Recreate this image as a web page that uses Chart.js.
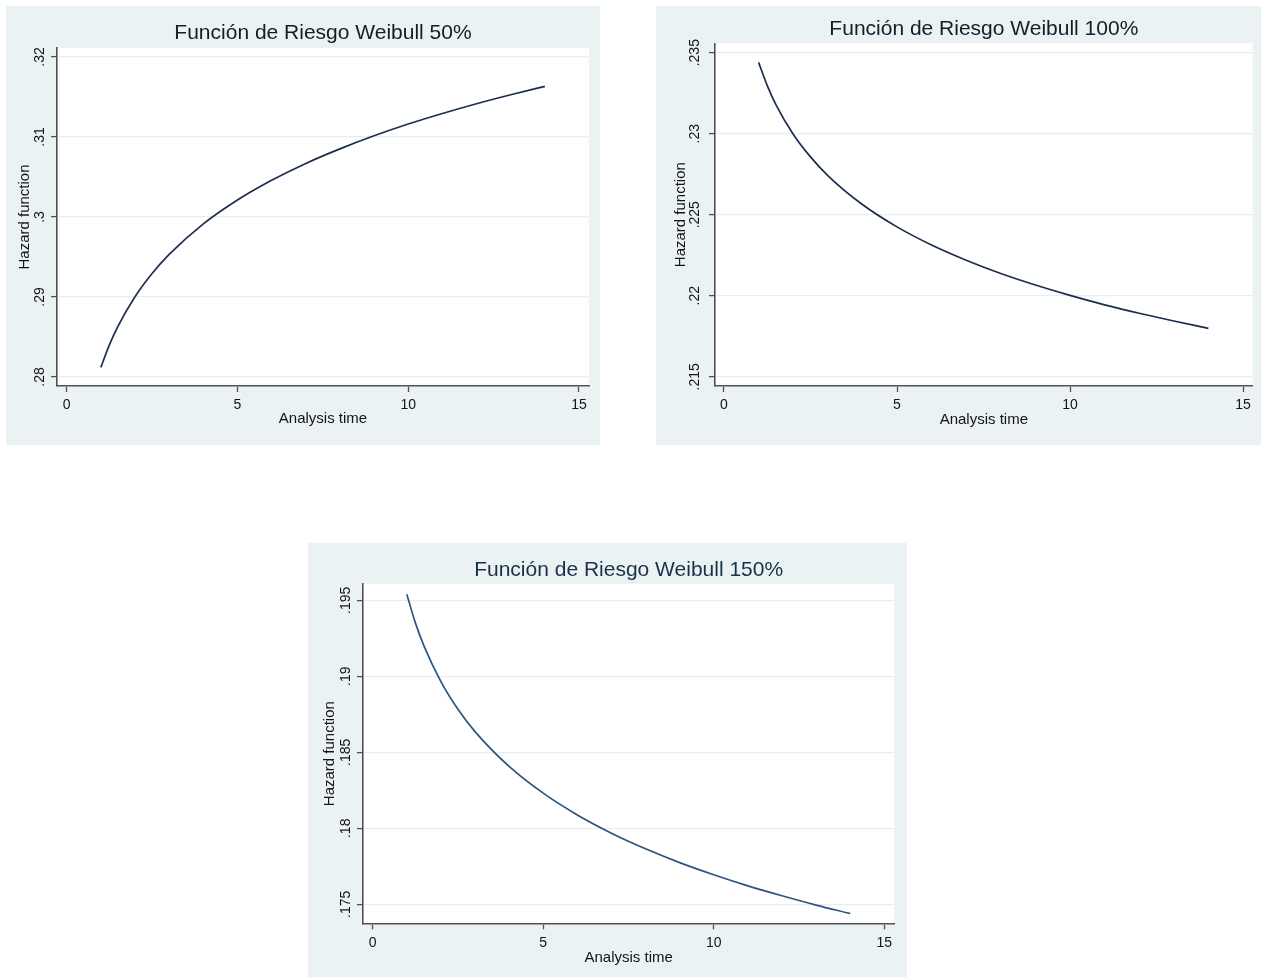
<!DOCTYPE html>
<html><head><meta charset="utf-8">
<script src="https://cdn.jsdelivr.net/npm/chart.js@4"></script>
<style>
html,body{margin:0;padding:0;background:#fff}
body{width:1261px;height:977px;position:relative;overflow:hidden}
.panel{position:absolute;background:#eaf2f3}
canvas{display:block}
</style></head><body>
<div class="panel" style="left:6px;top:6px;width:594px;height:439px"><canvas id="c1" width="594" height="439" style="width:594px;height:439px"></canvas></div>
<div class="panel" style="left:656px;top:6px;width:605px;height:439px"><canvas id="c2" width="605" height="439" style="width:605px;height:439px"></canvas></div>
<div class="panel" style="left:308px;top:543px;width:599px;height:434px"><canvas id="c3" width="599" height="434" style="width:599px;height:434px"></canvas></div>
<script>
// ---- data ----
const analysisTime = [1, 1.25, 1.5, 2, 2.5, 3, 4, 5, 6, 7, 8, 9, 10, 11, 12, 13, 14];
const hazard50  = [0.28120, 0.28401, 0.28633, 0.29003, 0.29293, 0.29532, 0.29914, 0.30213, 0.30459, 0.30670, 0.30852, 0.31015, 0.31162, 0.31294, 0.31416, 0.31528, 0.31633];
const hazard100 = [0.23440, 0.23297, 0.23180, 0.22997, 0.22857, 0.22742, 0.22563, 0.22425, 0.22313, 0.22219, 0.22137, 0.22066, 0.22002, 0.21944, 0.21892, 0.21844, 0.21799];
const hazard150 = [0.19540, 0.19353, 0.19202, 0.18965, 0.18783, 0.18636, 0.18407, 0.18231, 0.18088, 0.17968, 0.17865, 0.17774, 0.17694, 0.17621, 0.17556, 0.17495, 0.17439];
const chartTitles = ['Función de Riesgo Weibull 50%', 'Función de Riesgo Weibull 100%', 'Función de Riesgo Weibull 150%'];
const xTitle = 'Analysis time';
const yTitle = 'Hazard function';
const xTicks = [0, 5, 10, 15];
const yTicks50  = [0.28, 0.29, 0.30, 0.31, 0.32];
const yTicks100 = [0.215, 0.22, 0.225, 0.23, 0.235];
const yTicks150 = [0.175, 0.18, 0.185, 0.19, 0.195];

// ---- styling / layout ----
const FONT = '"Liberation Sans", Arial, Helvetica, sans-serif';
const AXIS = '#505050';
const GRID = '#e6eef1';
const TEXT = '#141414';

function textW(str, px) {
  const c = document.createElement('canvas').getContext('2d');
  c.font = px + 'px ' + FONT;
  return c.measureText(str).width;
}
const fmt = v => String(+v.toFixed(4)).replace(/^0\./, '.');

const whitePlot = {
  id: 'whitePlot',
  beforeDraw(chart) {
    const {ctx, chartArea: a} = chart;
    ctx.save();
    ctx.fillStyle = '#ffffff';
    ctx.fillRect(a.left, a.top, a.right - a.left, a.bottom - a.top);
    ctx.restore();
  }
};

function makeChart(id, title, values, yTicks, g) {
  const widest = Math.max(...yTicks.map(v => textW(fmt(v), 14)));
  const yPad = g.yLabOff - 6 - widest / 2;
  return new Chart(document.getElementById(id), {
    type: 'line',
    data: {
      datasets: [{
        data: analysisTime.map((x, i) => ({x: x, y: values[i]})),
        borderColor: g.lineColor,
        borderWidth: 1.7,
        pointRadius: 0,
        fill: false,
        cubicInterpolationMode: 'monotone'
      }]
    },
    options: {
      responsive: false,
      animation: false,
      devicePixelRatio: 1,
      layout: {padding: {left: 0, right: g.padRight, top: 0, bottom: 0}},
      plugins: {
        legend: {display: false},
        tooltip: {enabled: false},
        title: {
          display: true, text: title, fullSize: false,
          color: g.titleColor,
          font: {family: FONT, size: 21, weight: 'normal', lineHeight: 1.2},
          padding: {top: g.tT, bottom: g.tB}
        }
      },
      scales: {
        x: {
          type: 'linear', min: g.xmin, max: g.xmax,
          afterBuildTicks: s => { s.ticks = xTicks.map(v => ({value: v})); },
          afterFit: s => { s.height = g.xh; },
          grid: {drawOnChartArea: false, drawTicks: true, tickLength: 6, tickColor: AXIS, tickWidth: 1.3},
          border: {color: AXIS, width: 1.6},
          ticks: {color: TEXT, font: {family: FONT, size: 14}, padding: 5, maxRotation: 0, minRotation: 0, autoSkip: false,
                  callback: v => String(v)},
          title: {display: true, text: xTitle, color: TEXT, font: {family: FONT, size: 15, lineHeight: 1.2},
                  padding: {top: 0, bottom: g.xtPad}}
        },
        y: {
          type: 'linear', min: g.ymin, max: g.ymax,
          afterBuildTicks: s => { s.ticks = yTicks.map(v => ({value: v})); },
          afterFit: s => { s.width = g.yw; },
          grid: {color: GRID, lineWidth: 1.2, drawTicks: true, tickLength: 6, tickColor: AXIS, tickWidth: 1.3},
          border: {color: AXIS, width: 1.6},
          ticks: {color: TEXT, font: {family: FONT, size: 14}, minRotation: 90, maxRotation: 90, crossAlign: 'center',
                  padding: yPad, autoSkip: false, callback: v => fmt(v)},
          title: {display: true, text: yTitle, color: TEXT, font: {family: FONT, size: 15, lineHeight: 1.2},
                  padding: {top: g.ytPad, bottom: 0}}
        }
      }
    },
    plugins: [whitePlot]
  });
}

makeChart('c1', chartTitles[0], hazard50, yTicks50, {
  xmin: -0.284, xmax: 15.293, ymin: 0.278875, ymax: 0.321125,
  yw: 51, xh: 59, padRight: 11, tT: 14.7, tB: 2.1,
  yLabOff: 17, ytPad: 9.5, xtPad: 17.3,
  lineColor: '#1c2d4f', titleColor: '#161c28'
});
makeChart('c2', chartTitles[1], hazard100, yTicks100, {
  xmin: -0.26, xmax: 15.28, ymin: 0.21443, ymax: 0.23558,
  yw: 59, xh: 59, padRight: 8.3, tT: 10.2, tB: 1.9,
  yLabOff: 19.5, ytPad: 16, xtPad: 16,
  lineColor: '#1c2d4f', titleColor: '#161c28'
});
makeChart('c3', chartTitles[2], hazard150, yTicks150, {
  xmin: -0.284, xmax: 15.293, ymin: 0.17375, ymax: 0.19607,
  yw: 55, xh: 53.7, padRight: 12.7, tT: 14.9, tB: 0.9,
  yLabOff: 16.5, ytPad: 13, xtPad: 10.5,
  lineColor: '#2b5581', titleColor: '#1c3048'
});
</script>
</body></html>
